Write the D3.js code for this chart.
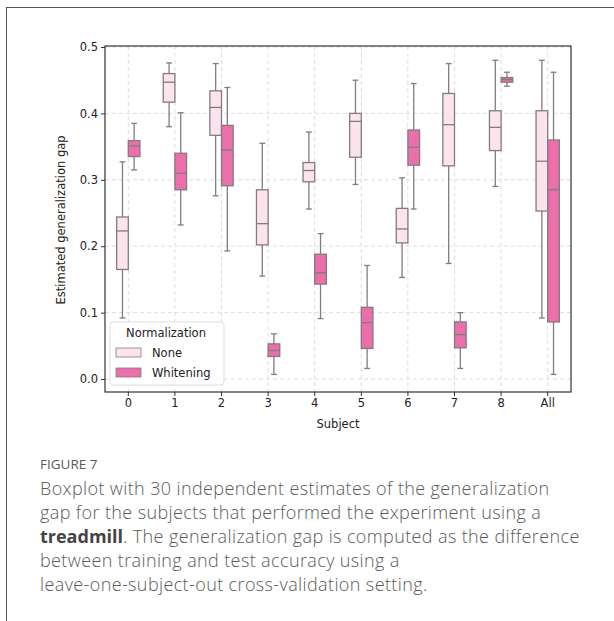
<!DOCTYPE html>
<html>
<head>
<meta charset="utf-8">
<script src="https://cdn.jsdelivr.net/npm/d3@7"></script>
<style>
  body { margin: 0; background: #fff; }
  #frame { position: absolute; left: 6px; top: 7px; width: 608px; height: 614px;
           border-left: 1.5px solid #555; border-top: 1.5px solid #555; }
  .caption { position: absolute; left: 40px; font-family: "Open Sans", sans-serif; color: #5a5a5a; }
  .fig { top: 455px; font-size: 13.5px; }
  .txt { top: 476px; font-size: 18px; line-height: 24px; width: 570px; font-weight: 300; letter-spacing: 0.38px; }
  .txt b { font-weight: 700; color: #444; letter-spacing: 0; }
</style>
</head>
<body>
<div id="frame"></div>
<div id="chart"></div>
<div class="caption fig">FIGURE 7</div>
<div class="caption txt">Boxplot with 30 independent estimates of the generalization<br>gap for the subjects that performed the experiment using a<br><b>treadmill</b>. The generalization gap is computed as the difference<br>between training and test accuracy using a<br>leave-one-subject-out cross-validation setting.</div>
<script>
var subjects = ["0", "1", "2", "3", "4", "5", "6", "7", "8", "All"];
var groups = ["None", "Whitening"];
var yTicks = [0.0, 0.1, 0.2, 0.3, 0.4, 0.5];

// [low whisker, q1, median, q3, high whisker]
var noneStats = [
    [0.092, 0.165, 0.223, 0.244, 0.327],
    [0.380, 0.417, 0.447, 0.460, 0.476],
    [0.276, 0.367, 0.409, 0.434, 0.475],
    [0.155, 0.202, 0.234, 0.285, 0.355],
    [0.256, 0.297, 0.314, 0.326, 0.372],
    [0.293, 0.334, 0.388, 0.400, 0.450],
    [0.153, 0.205, 0.226, 0.257, 0.303],
    [0.174, 0.321, 0.383, 0.430, 0.475],
    [0.290, 0.344, 0.379, 0.404, 0.480],
    [0.092, 0.253, 0.328, 0.404, 0.480]
];
var whiteningStats = [
    [0.315, 0.335, 0.351, 0.359, 0.385],
    [0.232, 0.285, 0.310, 0.340, 0.401],
    [0.193, 0.291, 0.345, 0.382, 0.439],
    [0.007, 0.034, 0.043, 0.053, 0.068],
    [0.091, 0.143, 0.160, 0.188, 0.219],
    [0.016, 0.046, 0.085, 0.108, 0.171],
    [0.256, 0.322, 0.349, 0.375, 0.445],
    [0.016, 0.047, 0.067, 0.086, 0.100],
    [0.441, 0.447, 0.451, 0.454, 0.462],
    [0.007, 0.086, 0.285, 0.360, 0.462]
];

var colors = {None: "#fbe4ee", Whitening: "#ea6fab"};
var edge = "#857a7f";

var margin = {top: 46, right: 43, bottom: 229, left: 105},
    width = 614 - margin.left - margin.right,
    height = 621 - margin.top - margin.bottom;

var svg = d3.select("#chart").append("svg")
    .attr("width", 614).attr("height", 621)
    .style("position", "absolute").style("left", 0).style("top", 0)
    .style("font-family", "'DejaVu Sans', sans-serif");

var g = svg.append("g").attr("transform", "translate(" + margin.left + "," + margin.top + ")");

var x = d3.scaleBand().domain(subjects).range([0, width]);
var xIn = d3.scaleBand().domain(groups).range([x.bandwidth() * 0.25, x.bandwidth() * 0.75]);
var y = d3.scaleLinear().domain([-0.0195, 0.5015]).range([height, 0]);

// grid
g.append("g").selectAll("line").data(yTicks).enter().append("line")
    .attr("x1", 0).attr("x2", width)
    .attr("y1", function(d) { return y(d); }).attr("y2", function(d) { return y(d); })
    .attr("stroke", "#ddd").attr("stroke-dasharray", "4,3");
g.append("g").selectAll("line").data(subjects).enter().append("line")
    .attr("x1", function(d) { return x(d) + x.bandwidth() / 2; })
    .attr("x2", function(d) { return x(d) + x.bandwidth() / 2; })
    .attr("y1", 0).attr("y2", height)
    .attr("stroke", "#ddd").attr("stroke-dasharray", "4,3");

// boxes
var boxData = [];
subjects.forEach(function(s, i) {
    boxData.push({s: s, grp: "None", v: noneStats[i]});
    boxData.push({s: s, grp: "Whitening", v: whiteningStats[i]});
});

var bw = xIn.bandwidth();
var box = g.selectAll(".box").data(boxData).enter().append("g")
    .attr("transform", function(d) { return "translate(" + (x(d.s) + xIn(d.grp)) + ",0)"; });

box.append("line")
    .attr("x1", bw / 2).attr("x2", bw / 2)
    .attr("y1", function(d) { return y(d.v[0]); }).attr("y2", function(d) { return y(d.v[4]); })
    .attr("stroke", edge).attr("stroke-width", 1.3);
box.append("line")
    .attr("x1", bw / 4).attr("x2", bw * 3 / 4)
    .attr("y1", function(d) { return y(d.v[0]); }).attr("y2", function(d) { return y(d.v[0]); })
    .attr("stroke", edge).attr("stroke-width", 1.3);
box.append("line")
    .attr("x1", bw / 4).attr("x2", bw * 3 / 4)
    .attr("y1", function(d) { return y(d.v[4]); }).attr("y2", function(d) { return y(d.v[4]); })
    .attr("stroke", edge).attr("stroke-width", 1.3);
box.append("rect")
    .attr("x", 0).attr("width", bw)
    .attr("y", function(d) { return y(d.v[3]); })
    .attr("height", function(d) { return y(d.v[1]) - y(d.v[3]); })
    .attr("fill", function(d) { return colors[d.grp]; })
    .attr("stroke", edge).attr("stroke-width", 1.3);
box.append("line")
    .attr("x1", 0).attr("x2", bw)
    .attr("y1", function(d) { return y(d.v[2]); }).attr("y2", function(d) { return y(d.v[2]); })
    .attr("stroke", edge).attr("stroke-width", 1.3);

// axes
var xAxis = g.append("g").attr("transform", "translate(0," + height + ")")
    .call(d3.axisBottom(x).tickSize(4).tickPadding(3));
var yAxis = g.append("g")
    .call(d3.axisLeft(y).tickValues(yTicks).tickFormat(d3.format(".1f")).tickSize(4).tickPadding(3));
[xAxis, yAxis].forEach(function(a) {
    a.select(".domain").remove();
    a.selectAll("text").attr("font-size", 11.5).attr("fill", "#222").style("font-family", "'DejaVu Sans', sans-serif");
    a.selectAll("line").attr("stroke", "#333");
});

g.append("rect").attr("width", width).attr("height", height)
    .attr("fill", "none").attr("stroke", "#333").attr("stroke-width", 1.2);

g.append("text").attr("x", width / 2).attr("y", height + 36)
    .attr("text-anchor", "middle").attr("font-size", 11.5).attr("fill", "#222").text("Subject");
g.append("text").attr("transform", "rotate(-90)")
    .attr("x", -height / 2 - 1).attr("y", -40)
    .attr("text-anchor", "middle").attr("font-size", 11.5).attr("fill", "#222")
    .text("Estimated generalization gap");

// legend
var leg = g.append("g").attr("transform", "translate(5,276)");
leg.append("rect").attr("width", 114).attr("height", 63).attr("rx", 3)
    .attr("fill", "rgba(255,255,255,0.85)").attr("stroke", "#ddd");
leg.append("text").attr("x", 56).attr("y", 15).attr("text-anchor", "middle")
    .attr("font-size", 11.5).attr("fill", "#222").text("Normalization");
groups.forEach(function(gr, i) {
    leg.append("rect").attr("x", 6).attr("y", 26 + i * 20).attr("width", 25).attr("height", 9)
        .attr("fill", colors[gr]).attr("stroke", edge).attr("stroke-width", 0.8);
    leg.append("text").attr("x", 42).attr("y", 35 + i * 20)
        .attr("font-size", 11.5).attr("fill", "#222").text(gr);
});
</script>
</body>
</html>
